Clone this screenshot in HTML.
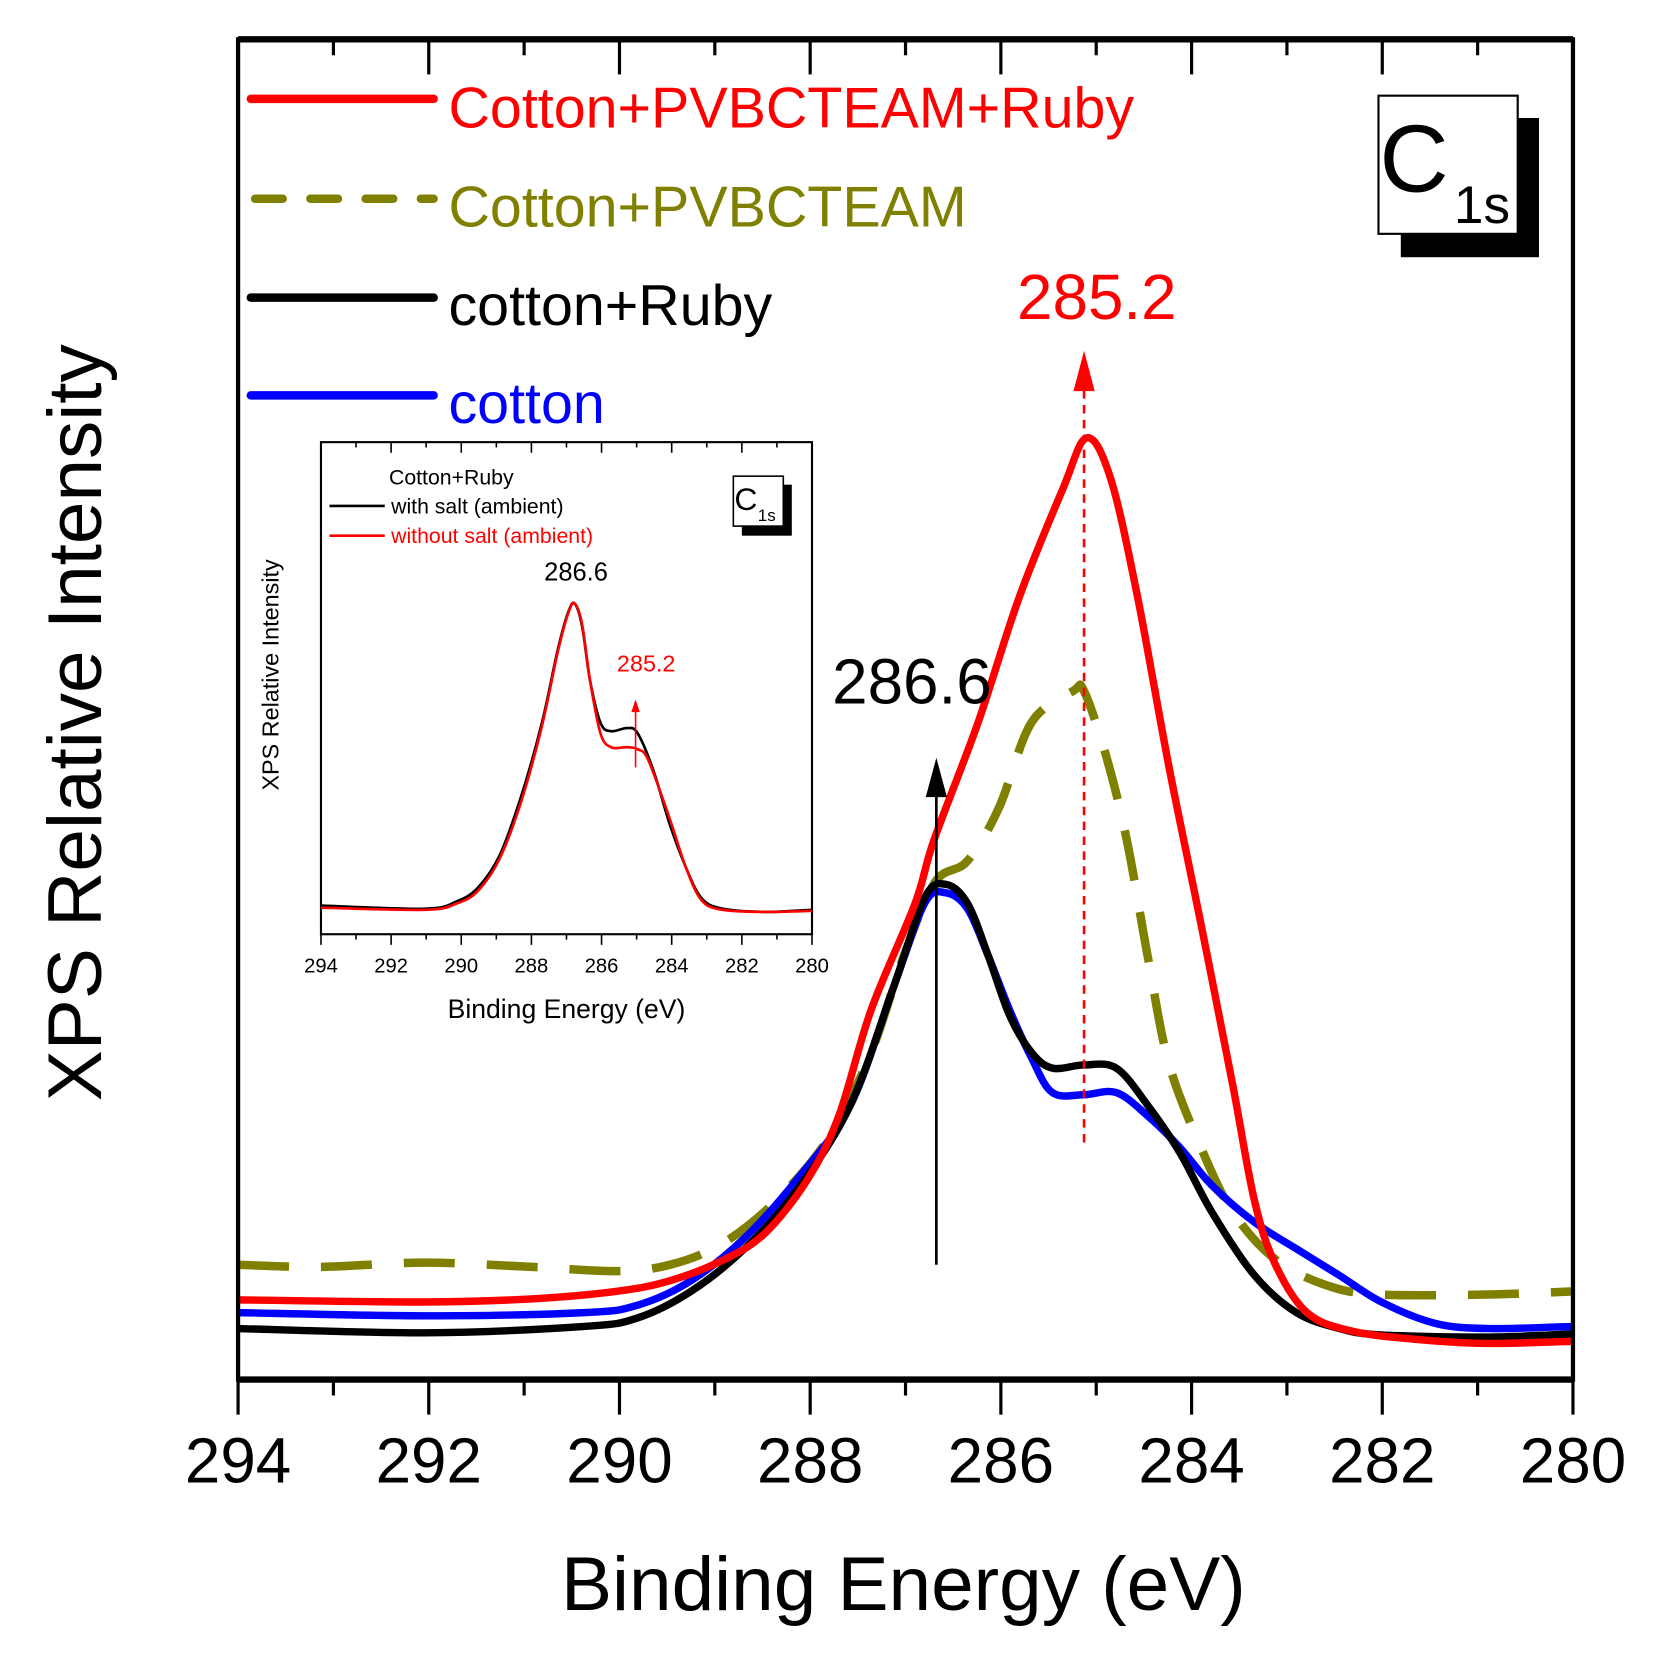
<!DOCTYPE html>
<html><head><meta charset="utf-8"><style>
html,body{margin:0;padding:0;background:#fff}
svg{display:block;font-family:"Liberation Sans",sans-serif}
</style></head><body>
<svg id="chart" width="1658" height="1666" viewBox="0 0 1560 1567.5" xmlns="http://www.w3.org/2000/svg">
<rect width="1560" height="1567.5" fill="#fff"/>
<g id="main-marks"></g>
<g id="inset-marks"></g>
<g id="axes"></g>
<g font-size="54">
 <line x1="236" y1="93" x2="408" y2="93" stroke="#f00" stroke-width="8" stroke-linecap="round"/>
 <text x="422" y="120" fill="#f00">Cotton+PVBCTEAM+Ruby</text>
 <line x1="240" y1="187" x2="408" y2="187" stroke="#808000" stroke-width="8" stroke-dasharray="26,26" stroke-linecap="round"/>
 <text x="422" y="213" fill="#808000">Cotton+PVBCTEAM</text>
 <line x1="236" y1="280" x2="408" y2="280" stroke="#000" stroke-width="8" stroke-linecap="round"/>
 <text x="422" y="306" fill="#000">cotton+Ruby</text>
 <line x1="236" y1="372" x2="408" y2="372" stroke="#00f" stroke-width="8" stroke-linecap="round"/>
 <text x="422" y="398" fill="#00f">cotton</text>
</g>
<g>
 <rect x="1318" y="111" width="130" height="131" fill="#000"/>
 <rect x="1297" y="90" width="131" height="130" fill="#fff" stroke="#000" stroke-width="2"/>
 <text x="1298" y="180" font-size="90">C</text>
 <text x="1368" y="210" font-size="50">1s</text>
</g>
<g>
 <text x="1032" y="300" font-size="60" fill="#f00" text-anchor="middle">285.2</text>
 <line x1="1020" y1="1075" x2="1020" y2="365" stroke="#f00" stroke-width="2.5" stroke-dasharray="8,6"/>
 <polygon points="1020,330 1010,368 1030,368" fill="#f00"/>
</g>
<g>
 <text x="858" y="662" font-size="60" fill="#000" text-anchor="middle">286.6</text>
 <line x1="881" y1="1190" x2="881" y2="745" stroke="#000" stroke-width="2.5"/>
 <polygon points="881,713 871,750 891,750" fill="#000"/>
</g>
<text x="850" y="1515" font-size="72" text-anchor="middle">Binding Energy (eV)</text>
<text transform="translate(95,680) rotate(-90)" font-size="72" text-anchor="middle">XPS Relative Intensity</text>
<g font-size="20">
 <text x="366" y="456">Cotton+Ruby</text>
 <line x1="310" y1="476" x2="362" y2="476" stroke="#000" stroke-width="2.5"/>
 <text x="368" y="483">with salt (ambient)</text>
 <line x1="310" y1="504" x2="362" y2="504" stroke="#f00" stroke-width="2.5"/>
 <text x="368" y="511" fill="#f00">without salt (ambient)</text>
</g>
<g>
 <rect x="698" y="456" width="47" height="48" fill="#000"/>
 <rect x="690" y="448" width="47" height="47" fill="#fff" stroke="#000" stroke-width="1.5"/>
 <text x="691" y="480" font-size="30">C</text>
 <text x="713" y="490" font-size="16">1s</text>
</g>
<text x="542" y="546" font-size="24" text-anchor="middle">286.6</text>
<text x="608" y="632" font-size="22" fill="#f00" text-anchor="middle">285.2</text>
<line x1="598" y1="722" x2="598" y2="668" stroke="#f00" stroke-width="1.5"/>
<polygon points="598,658 594,670 602,670" fill="#f00"/>
<text x="533" y="958" font-size="25" text-anchor="middle">Binding Energy (eV)</text>
<text transform="translate(262,635) rotate(-90)" font-size="22" text-anchor="middle">XPS Relative Intensity</text>
</svg>
<script>
const redE=[294,292.04,290.9,290.03,289.47,288.9,288.47,288.03,287.7,287.36,286.9,286.7,286.24,285.8,285.35,285.1,284.85,284.57,284.24,283.9,283.57,283.34,283.12,282.79,282.34,281.67,280.9,280];
const redI=[75,73,76,83,93,113,138,188,248,348,448,508,618,738,838,886,848,738,578,428,278,168,108,63,46,38,34,36];
const blackE=[294,292.04,290.37,289.81,289.25,288.69,288.14,287.58,287.13,286.8,286.58,286.35,286.13,285.91,285.68,285.46,285.13,284.79,284.46,284.12,283.79,283.34,282.9,282.45,282.01,280.89,280];
const blackI=[48,44,50,58,83,123,178,258,368,453,466,448,398,343,308,293,296,293,258,213,158,98,63,48,42,40,43];
const blueE=[294,292.04,290.37,289.81,289.25,288.69,288.14,287.58,287.13,286.8,286.58,286.35,286.13,285.91,285.68,285.46,285.13,284.79,284.46,284.12,283.79,283.34,282.9,282.45,282.01,281.45,280.89,280];
const blueI=[63,60,63,70,93,133,188,258,368,448,458,443,398,348,303,270,268,270,248,218,183,148,123,98,73,53,48,50];
const oliveE=[294,293.15,292.04,290.92,290.03,289.47,288.92,288.36,287.8,287.36,287.02,286.69,286.35,286.02,285.68,285.24,285.13,284.9,284.68,284.46,284.24,283.9,283.57,283.12,282.56,282.01,280.89,280];
const oliveI=[108,106,110,106,102,108,128,168,228,308,398,468,488,538,618,648,648,588,508,398,298,218,158,113,88,80,80,83];
const insetE=[294,291.03,290.12,289.52,288.91,288.3,287.7,287.24,286.94,286.76,286.55,286.33,286.03,285.73,285.27,284.97,284.52,284.06,283.61,283.15,282.55,281.33,280];
const insetSaltI=[27,24,31,44,74,129,199,269,304,311,289,239,199,191,194,189,154,104,64,34,24,21,23];
const insetRedE=[294,291.03,290.12,289.52,288.91,288.3,287.7,287.24,286.94,286.76,286.55,286.33,286.03,285.73,285.27,284.97,284.67,284.06,283.61,283.15,282.55,281.33,280];
const insetNoSaltI=[25,23,29,41,71,124,196,267,303,311,291,239,189,176,176,174,164,109,64,32,23,21,22];
const xTicks=[294,292,290,288,286,284,282,280];

const NS="http://www.w3.org/2000/svg";
const M={l:224,r:1480,t:37,b:1298}, I={l:302,r:764,t:416,b:879};
const xM=e=>M.l+(294-e)/14*(M.r-M.l), yM=v=>M.b-v;
const xI=e=>I.l+(294-e)/14*(I.r-I.l), yI=v=>I.b-v;
function mk(tag,attrs,parent){const el=document.createElementNS(NS,tag);for(const k in attrs)el.setAttribute(k,attrs[k]);parent.appendChild(el);return el;}
function smooth(P){
  let d='M'+P[0][0].toFixed(1)+','+P[0][1].toFixed(1);
  for(let i=0;i<P.length-1;i++){
    const p0=P[Math.max(0,i-1)],p1=P[i],p2=P[i+1],p3=P[Math.min(P.length-1,i+2)];
    const c1=[p1[0]+(p2[0]-p0[0])/6,p1[1]+(p2[1]-p0[1])/6];
    const c2=[p2[0]-(p3[0]-p1[0])/6,p2[1]-(p3[1]-p1[1])/6];
    d+=' C'+c1[0].toFixed(1)+','+c1[1].toFixed(1)+' '+c2[0].toFixed(1)+','+c2[1].toFixed(1)+' '+p2[0].toFixed(1)+','+p2[1].toFixed(1);
  }
  return d;
}
function line(E,V,fx,fy,color,w,dash,parent,name){
  const P=E.map((e,i)=>[fx(e),fy(V[i])]);
  const p=mk('path',{d:smooth(P),fill:'none',stroke:color,'stroke-width':w,'stroke-linejoin':'round'},parent);
  if(dash)p.setAttribute('stroke-dasharray',dash);
  
  
}
const gm=document.getElementById('main-marks'), gi=document.getElementById('inset-marks'), ga=document.getElementById('axes');
line(oliveE,oliveI,xM,yM,'#808000',8,'48,30',gm,'series-cotton-pvbcteam');
line(blueE,blueI,xM,yM,'#00f',7,null,gm,'series-cotton');
line(blackE,blackI,xM,yM,'#000',7,null,gm,'series-cotton-ruby');
line(redE,redI,xM,yM,'#f00',7,null,gm,'series-cotton-pvbcteam-ruby');
mk('rect',{x:I.l,y:I.t,width:I.r-I.l,height:I.b-I.t,fill:'#fff',stroke:'#000','stroke-width':2},gi);
line(insetE,insetSaltI,xI,yI,'#000',2.5,null,gi,'inset-series-with-salt');
line(insetRedE,insetNoSaltI,xI,yI,'#f00',2.5,null,gi,'inset-series-without-salt');
mk('rect',{x:M.l,y:M.t,width:M.r-M.l,height:M.b-M.t,fill:'none',stroke:'#000','stroke-width':4},ga);
mk('line',{x1:M.l,y1:M.t,x2:M.r,y2:M.t,stroke:'#000','stroke-width':6},ga);
mk('line',{x1:M.l,y1:M.b,x2:M.r,y2:M.b,stroke:'#000','stroke-width':6},ga);
for(let e=294;e>=280;e--){
  const major=e%2===0, x=xM(e);
  mk('line',{x1:x,y1:M.b,x2:x,y2:M.b+(major?33:15),stroke:'#000','stroke-width':3},ga);
  mk('line',{x1:x,y1:M.t,x2:x,y2:M.t+(major?33:15),stroke:'#000','stroke-width':3},ga);
  const xi=xI(e);
  mk('line',{x1:xi,y1:I.b,x2:xi,y2:I.b+(major?10:5),stroke:'#000','stroke-width':1.5},ga);
  mk('line',{x1:xi,y1:I.t,x2:xi,y2:I.t+(major?10:5),stroke:'#000','stroke-width':1.5},ga);
}
xTicks.forEach(e=>{
  const t=mk('text',{x:xM(e),y:1395,'font-size':60,'text-anchor':'middle'},ga);t.textContent=e;
  
  
  const ti=mk('text',{x:xI(e),y:915,'font-size':19,'text-anchor':'middle'},ga);ti.textContent=e;
  
  
});
</script>
</body></html>
